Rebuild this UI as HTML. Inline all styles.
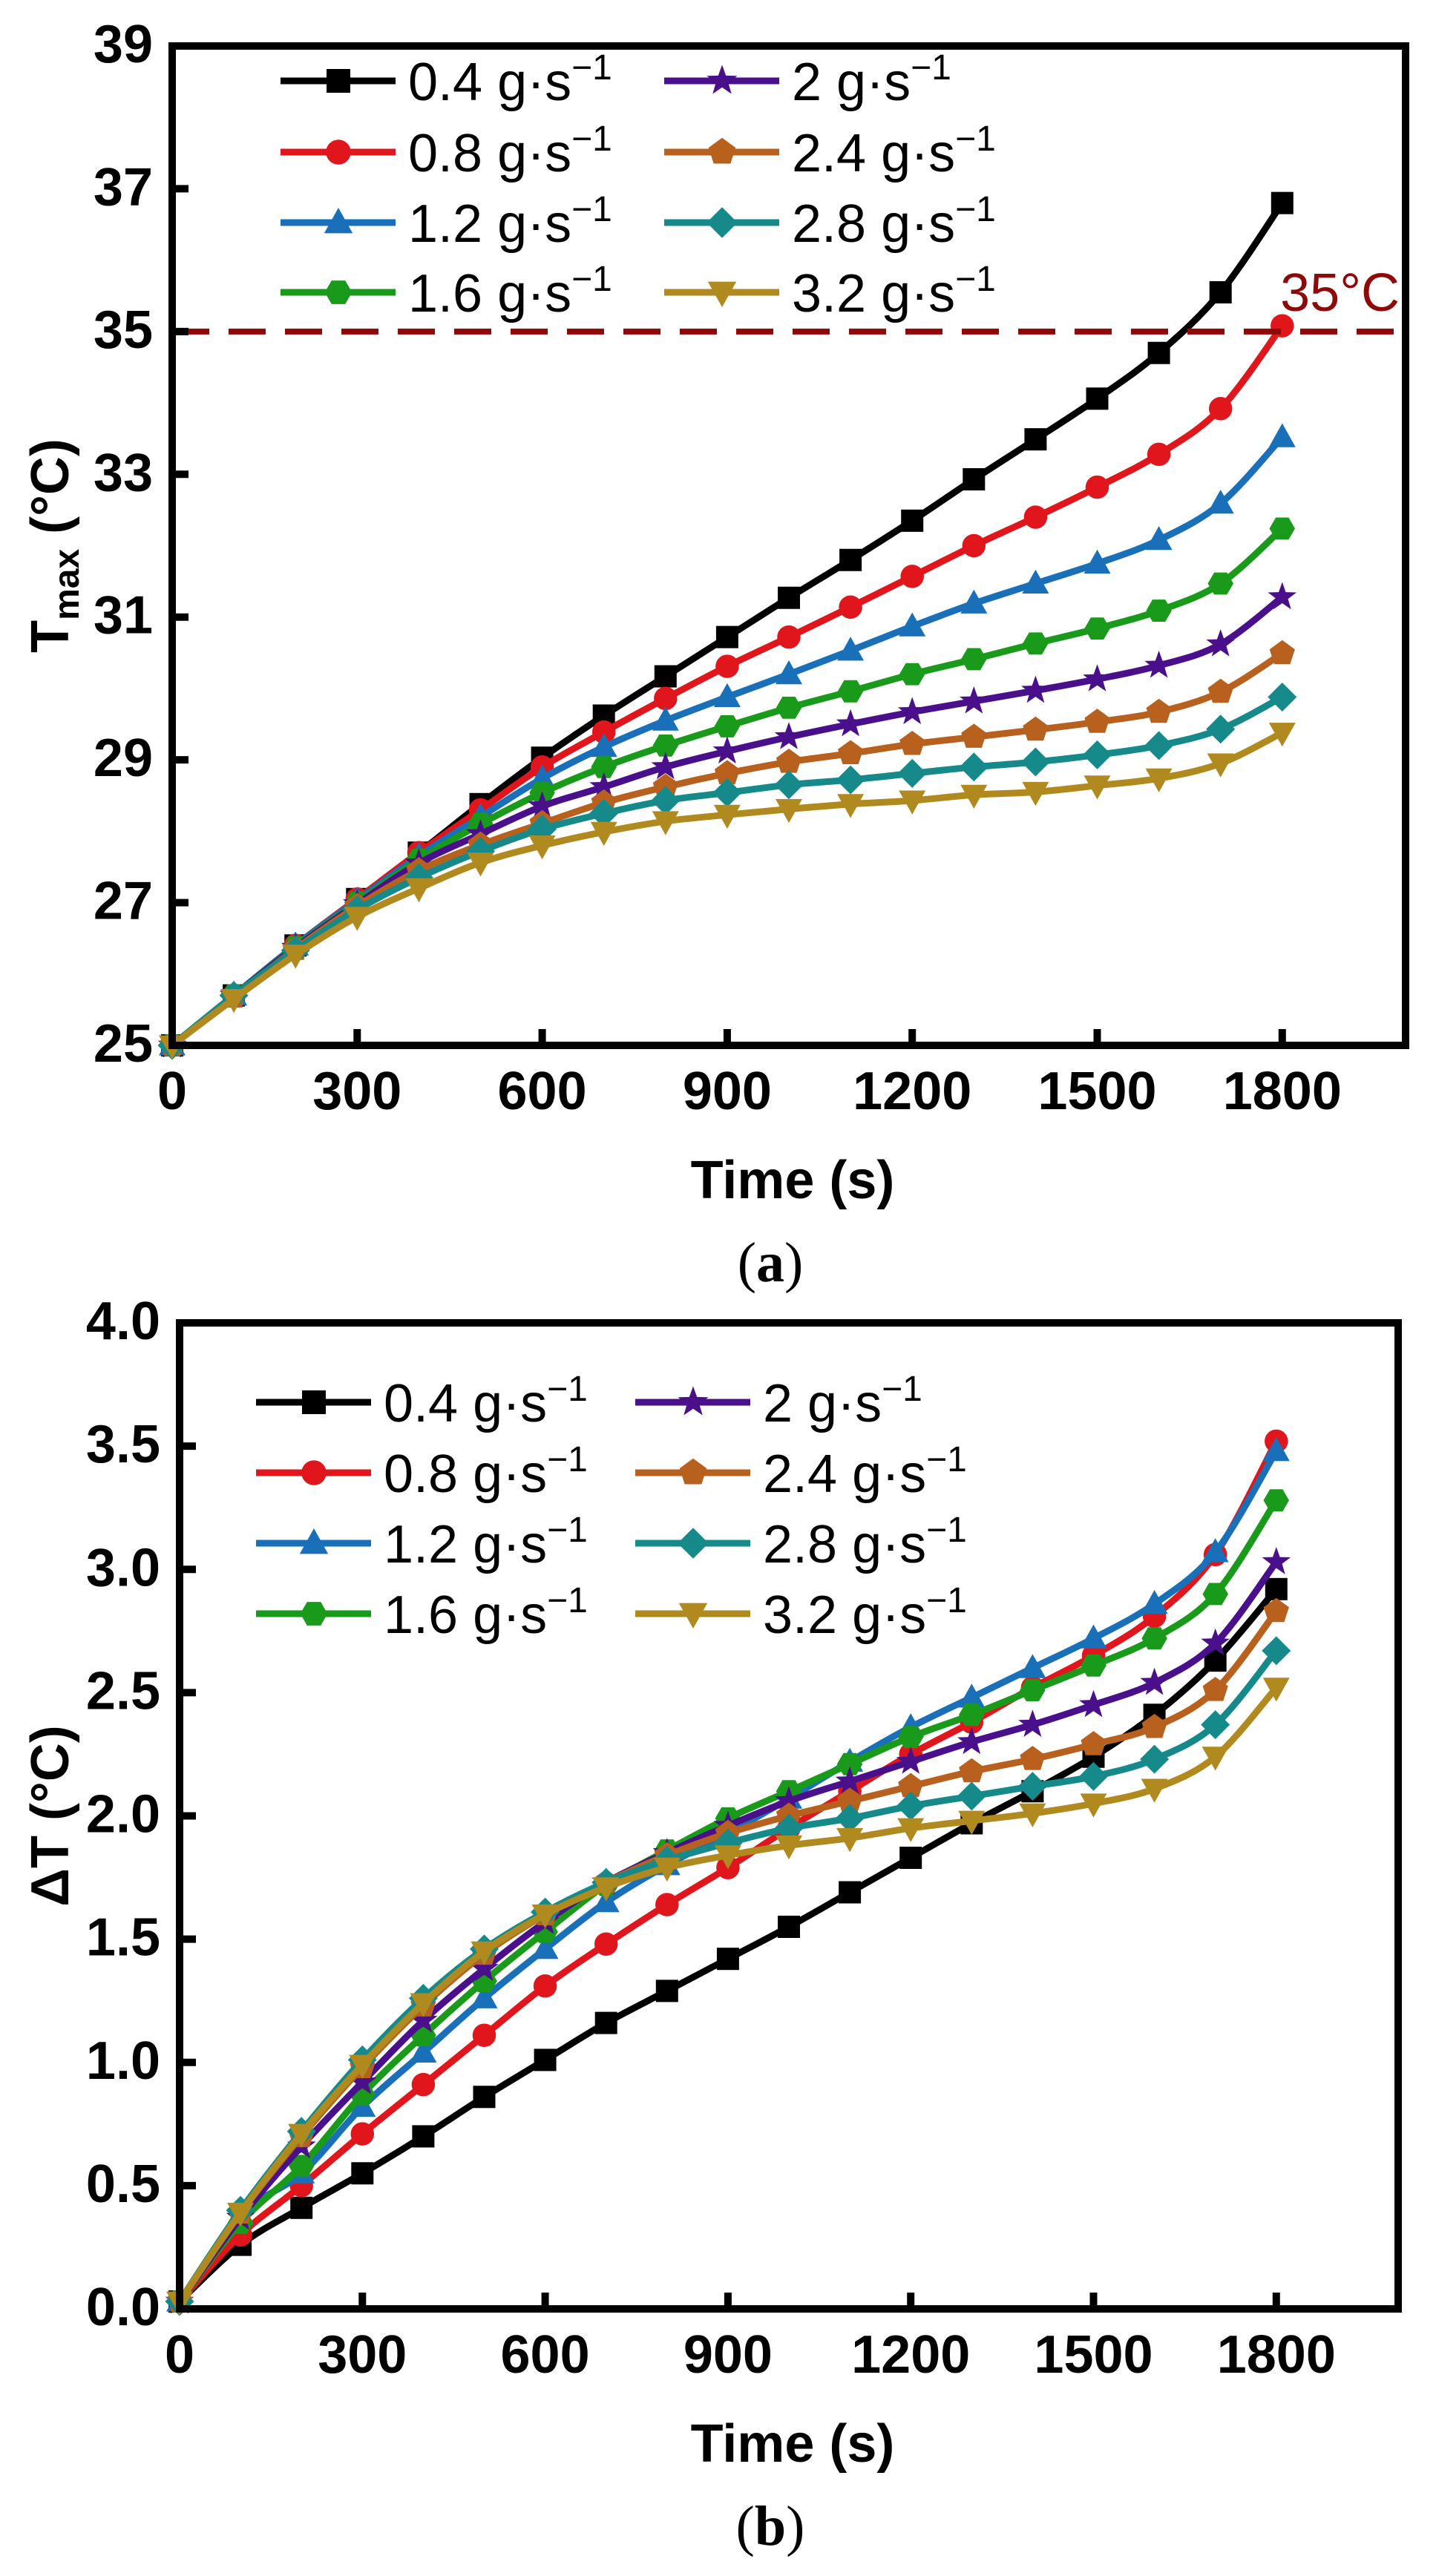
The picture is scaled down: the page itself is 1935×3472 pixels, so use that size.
<!DOCTYPE html>
<html><head><meta charset="utf-8"><style>
html,body{margin:0;padding:0;background:#fff;}
svg{display:block;}
.tk{font-family:"Liberation Sans",Arial,sans-serif;font-weight:bold;font-size:72px;fill:#000;}
.lg{font-family:"Liberation Sans",Arial,sans-serif;font-size:72px;fill:#000;}
.cap{font-family:"Liberation Serif","DejaVu Serif",serif;font-size:76px;fill:#000;}
</style></head><body>
<svg id="fig" width="1935" height="3472" viewBox="0 0 1935 3472" xmlns="http://www.w3.org/2000/svg"></svg>
<script>
const times=[0,100,200,300,400,500,600,700,800,900,1000,1100,1200,1300,1400,1500,1600,1700,1800];
const seriesNames=["0.4","0.8","1.2","1.6","2","2.4","2.8","3.2"];
const colors=["#000000","#e0161c","#1a70b8","#1a9a1a","#4a108c","#b8601e","#168a8a","#b08a1e"];
const shapes=["square","circle","tri","hex","star","pent","diamond","tridown"];
// chart a: Tmax
const tA1=[25,25.7,26.4,27.05,27.7,28.38,29.03,29.62,30.17,30.72,31.27,31.8,32.35,32.93,33.49,34.06,34.7,35.55,36.8];
const tA2=[25,25.7,26.4,27.05,27.7,28.3,28.9,29.39,29.86,30.31,30.72,31.14,31.57,32.0,32.4,32.82,33.28,33.92,35.08];
const tA3=[25,25.7,26.4,27.03,27.65,28.2,28.74,29.18,29.55,29.88,30.2,30.53,30.87,31.19,31.47,31.75,32.08,32.59,33.52];
const tA4=[25,25.7,26.38,27.0,27.6,28.1,28.54,28.9,29.2,29.47,29.73,29.96,30.2,30.41,30.63,30.84,31.09,31.47,32.24];
const tA5=[25,25.7,26.37,26.98,27.55,27.96,28.35,28.62,28.9,29.12,29.32,29.5,29.67,29.82,29.97,30.13,30.32,30.62,31.28];
const tA6=[25,25.68,26.35,26.95,27.45,27.81,28.11,28.4,28.62,28.81,28.97,29.09,29.22,29.32,29.42,29.53,29.67,29.95,30.49];
const tA7=[25,25.7,26.33,26.9,27.35,27.72,28.03,28.25,28.43,28.54,28.65,28.72,28.81,28.9,28.97,29.07,29.2,29.43,29.88];
const tA8=[25,25.65,26.27,26.8,27.2,27.56,27.8,27.99,28.14,28.23,28.31,28.38,28.43,28.51,28.55,28.64,28.74,28.95,29.38];
const seriesA=[tA1,tA2,tA3,tA4,tA5,tA6,tA7,tA8];
const ticksA=[25,27,29,31,33,35,37,39];
const limitA=35;
// chart b: deltaT
const dB1=[0.03,0.26,0.41,0.55,0.70,0.86,1.01,1.16,1.29,1.42,1.55,1.69,1.83,1.97,2.1,2.24,2.41,2.63,2.92];
const dB2=[0.03,0.3,0.5,0.71,0.91,1.11,1.31,1.48,1.64,1.79,1.95,2.1,2.25,2.38,2.52,2.65,2.81,3.06,3.52];
const dB3=[0.03,0.38,0.55,0.82,1.04,1.26,1.46,1.65,1.8,1.93,2.07,2.22,2.36,2.48,2.6,2.72,2.86,3.07,3.48];
const dB4=[0.03,0.35,0.58,0.87,1.11,1.33,1.53,1.72,1.86,1.99,2.1,2.21,2.32,2.41,2.51,2.61,2.72,2.9,3.28];
const dB5=[0.03,0.37,0.66,0.92,1.17,1.38,1.57,1.73,1.85,1.96,2.06,2.14,2.22,2.3,2.37,2.45,2.54,2.7,3.03];
const dB6=[0.03,0.39,0.7,0.98,1.23,1.44,1.6,1.73,1.84,1.93,2.0,2.06,2.12,2.18,2.23,2.29,2.36,2.51,2.83];
const dB7=[0.03,0.4,0.72,1.01,1.26,1.46,1.61,1.73,1.82,1.89,1.95,1.99,2.04,2.08,2.12,2.16,2.23,2.37,2.67];
const dB8=[0.03,0.39,0.71,0.99,1.24,1.45,1.6,1.71,1.79,1.84,1.88,1.91,1.95,1.98,2.01,2.05,2.11,2.24,2.52];
const seriesB=[dB1,dB2,dB3,dB4,dB5,dB6,dB7,dB8];
const ticksB=[0,0.5,1,1.5,2,2.5,3,3.5,4];
const xTicks=[0,300,600,900,1200,1500,1800];

const NS="http://www.w3.org/2000/svg";
const svg=document.getElementById('fig');
function el(tag,attrs,parent){const e=document.createElementNS(NS,tag);for(const k in attrs)e.setAttribute(k,attrs[k]);(parent||svg).appendChild(e);return e;}

function marker(g,shape,cx,cy,col,s){
  let e;
  const pts=(arr)=>arr.map(p=>(cx+p[0]).toFixed(1)+','+(cy+p[1]).toFixed(1)).join(' ');
  if(shape==='square'){e=el('rect',{x:cx-s,y:cy-s,width:2*s,height:2*s,fill:col},g);}
  else if(shape==='circle'){e=el('circle',{cx:cx,cy:cy,r:s*1.05,fill:col},g);}
  else if(shape==='tri'){e=el('polygon',{points:pts([[0,-s*1.25],[s*1.2,s*0.9],[-s*1.2,s*0.9]]),fill:col},g);}
  else if(shape==='tridown'){e=el('polygon',{points:pts([[0,s*1.25],[s*1.2,-s*0.9],[-s*1.2,-s*0.9]]),fill:col},g);}
  else if(shape==='diamond'){e=el('polygon',{points:pts([[0,-s*1.3],[s*1.3,0],[0,s*1.3],[-s*1.3,0]]),fill:col},g);}
  else if(shape==='hex'){const a=[];for(let i=0;i<6;i++){const t=Math.PI/3*i;a.push([Math.cos(t)*s*1.15,Math.sin(t)*s*1.15]);}e=el('polygon',{points:pts(a),fill:col},g);}
  else if(shape==='pent'){const a=[];for(let i=0;i<5;i++){const t=-Math.PI/2+2*Math.PI/5*i;a.push([Math.cos(t)*s*1.2,Math.sin(t)*s*1.2]);}e=el('polygon',{points:pts(a),fill:col},g);}
  else if(shape==='star'){const a=[];for(let i=0;i<10;i++){const t=-Math.PI/2+Math.PI/5*i;const r=i%2?s*0.55:s*1.35;a.push([Math.cos(t)*r,Math.sin(t)*r]);}e=el('polygon',{points:pts(a),fill:col},g);}
  return e;
}

function smoothPath(P){
  let d='M'+P[0][0].toFixed(1)+' '+P[0][1].toFixed(1);
  for(let i=0;i<P.length-1;i++){
    const p0=P[Math.max(0,i-1)],p1=P[i],p2=P[i+1],p3=P[Math.min(P.length-1,i+2)];
    const c1=[p1[0]+(p2[0]-p0[0])/6,p1[1]+(p2[1]-p0[1])/6];
    const c2=[p2[0]-(p3[0]-p1[0])/6,p2[1]-(p3[1]-p1[1])/6];
    d+=' C'+c1[0].toFixed(1)+' '+c1[1].toFixed(1)+' '+c2[0].toFixed(1)+' '+c2[1].toFixed(1)+' '+p2[0].toFixed(1)+' '+p2[1].toFixed(1);
  }
  return d;
}

function drawChart(cfg){
  const g=el('g',{});
  
  
  const X=v=>cfg.x0+(v-0)/2000*(cfg.x1-cfg.x0);
  const Y=v=>cfg.y1-(v-cfg.ymin)/(cfg.ymax-cfg.ymin)*(cfg.y1-cfg.y0);
  cfg.series.forEach((arr,si)=>{
    const sg=el('g',{},g);
    
    
    const P=arr.map((v,i)=>[X(times[i]),Y(v)]);
    el('path',{d:smoothPath(P),fill:'none',stroke:colors[si],'stroke-width':9},sg);
    P.forEach((p,i)=>{const m=marker(sg,shapes[si],p[0],p[1],colors[si],15);
      
      });
  });
  if(cfg.limit!==undefined){
    const l=el('line',{x1:cfg.x0,x2:cfg.x1,y1:Y(cfg.limit),y2:Y(cfg.limit),stroke:'#8e0a0a','stroke-width':8,'stroke-dasharray':'50 26'},g);
    
    
    const t=el('text',{x:cfg.x1-8,y:Y(cfg.limit)-28,'text-anchor':'end',class:'lg'},g);
    t.style.fill='#8e0a0a';t.textContent='35°C';
    
    
  }
  const fr=el('rect',{x:cfg.x0,y:cfg.y0,width:cfg.x1-cfg.x0,height:cfg.y1-cfg.y0,fill:'none',stroke:'#000','stroke-width':10},g);
  
  
  xTicks.forEach(v=>{
    el('line',{x1:X(v),x2:X(v),y1:cfg.y1,y2:cfg.y1-22,stroke:'#000','stroke-width':10},g);
    const t=el('text',{x:X(v),y:cfg.y1+86,'text-anchor':'middle',class:'tk'},g);
    t.textContent=v;
    
    
  });
  cfg.yticks.forEach(v=>{
    el('line',{x1:cfg.x0,x2:cfg.x0+22,y1:Y(v),y2:Y(v),stroke:'#000','stroke-width':10},g);
    const t=el('text',{x:cfg.x0-26,y:Y(v)+22,'text-anchor':'end',class:'tk'},g);
    t.textContent=cfg.fmt(v);
    
    
  });
  const xt=el('text',{x:(cfg.x0+cfg.x1)/2+5,y:cfg.y1+206,'text-anchor':'middle',class:'tk'},g);
  xt.textContent='Time (s)';
  
  
  const yt=el('text',{x:0,y:0,'text-anchor':'middle',class:'tk',transform:'translate(92,'+((cfg.y0+cfg.y1)/2)+') rotate(-90)'},g);
  yt.innerHTML=cfg.ytitle;
  
  
  const cp=el('text',{x:(cfg.x0+cfg.x1)/2-25,y:cfg.y1+318,'text-anchor':'middle',class:'cap'},g);
  cp.innerHTML=cfg.caption;
  
  
  const lg=el('g',{},g);
  
  
  seriesNames.forEach((n,i)=>{
    const col=i<4?0:1, row=i%4;
    const lx=cfg.leg.cols[col], ly=cfg.leg.rows[row];
    const eg=el('g',{},lg);
    
    
    el('line',{x1:lx,x2:lx+155,y1:ly,y2:ly,stroke:colors[i],'stroke-width':9},eg);
    marker(eg,shapes[i],lx+78,ly,colors[i],16);
    const t=el('text',{x:lx+172,y:ly+26,class:'lg'},eg);
    t.innerHTML=n+' g·s<tspan dy="-28" font-size="48">−1</tspan>';
  });
}

drawChart({name:'chart-a-tmax',x0:232,x1:1894,y0:62,y1:1409,ymin:25,ymax:39,yticks:ticksA,series:seriesA,limit:limitA,
  fmt:v=>String(v),ytitle:'T<tspan font-size="48" dy="14">max</tspan><tspan dy="-14"> (°C)</tspan>',caption:'(<tspan font-weight="bold">a</tspan>)',
  leg:{cols:[378,895],rows:[109,205,300,394]}});
drawChart({name:'chart-b-delta-t',x0:242,x1:1884,y0:1783,y1:3112,ymin:0,ymax:4,yticks:ticksB,series:seriesB,
  fmt:v=>v.toFixed(1),ytitle:'ΔT (°C)',caption:'(<tspan font-weight="bold">b</tspan>)',
  leg:{cols:[345,856],rows:[1890,1985,2080,2175]}});
</script>
</body></html>
